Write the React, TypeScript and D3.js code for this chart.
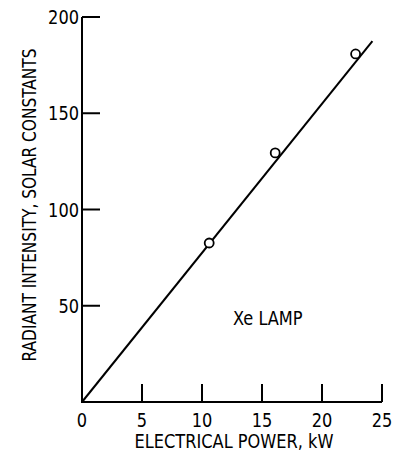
import React from "react";
import * as d3 from "d3";

const pointPower = [10.6, 16.1, 22.8];
const pointIntensity = [82.6, 129.4, 180.8];
const fitPower = [0, 24.2];
const fitIntensity = [0, 187.5];
const xTicks = [0, 5, 10, 15, 20, 25];
const yTicks = [50, 100, 150, 200];

const width = 393;
const height = 455;
const margin = { top: 17, right: 11, bottom: 53, left: 82 };
const font = "'DejaVu Sans Condensed', 'DejaVu Sans', sans-serif";

// narrow, tall lettering like the original typewriter-style labels
const Label = ({ x, y, anchor = "start", size = 20, rotate = 0, children }: any) => (
  <text
    transform={`translate(${x},${y}) rotate(${rotate}) scale(0.9,1)`}
    textAnchor={anchor}
    fontSize={size}
  >
    {children}
  </text>
);

const App = () => {
  const x = d3
    .scaleLinear()
    .domain([0, 25])
    .range([margin.left, width - margin.right]);
  const y = d3
    .scaleLinear()
    .domain([0, 200])
    .range([height - margin.bottom, margin.top]);

  const line = d3
    .line<number>()
    .x((d) => x(fitPower[d]))
    .y((d) => y(fitIntensity[d]));

  const tickLen = 18;

  return (
    <svg
      width={width}
      height={height}
      style={{ position: "absolute", left: 0, top: 0, background: "#fff" }}
      fontFamily={font}
    >
      {/* axes */}
      <path
        d={`M${x(0)},${y(200)}V${y(0)}H${x(25)}`}
        fill="none"
        stroke="#000"
        strokeWidth={2}
      />
      {yTicks.map((t) => (
        <g key={"y" + t}>
          <line x1={x(0)} x2={x(0) + tickLen} y1={y(t)} y2={y(t)} stroke="#000" strokeWidth={2} />
          <Label x={x(0) - 3} y={y(t) + 7} anchor="end">
            {t}
          </Label>
        </g>
      ))}
      {xTicks.map((t) => (
        <g key={"x" + t}>
          {t > 0 && (
            <line x1={x(t)} x2={x(t)} y1={y(0)} y2={y(0) - tickLen} stroke="#000" strokeWidth={2} />
          )}
          <Label x={x(t)} y={y(0) + 25} anchor="middle">
            {t}
          </Label>
        </g>
      ))}

      {/* fit line */}
      <path d={line([0, 1]) || ""} fill="none" stroke="#000" strokeWidth={2} />

      {/* data points */}
      {pointPower.map((p, i) => (
        <circle
          key={i}
          cx={x(p)}
          cy={y(pointIntensity[i])}
          r={4.5}
          fill="#fff"
          stroke="#000"
          strokeWidth={1.8}
        />
      ))}

      <Label x={233} y={325}>
        Xe LAMP
      </Label>

      {/* axis titles */}
      <Label x={234} y={448} anchor="middle">
        ELECTRICAL POWER, kW
      </Label>
      <Label x={36} y={205} anchor="middle" size={19} rotate={-90}>
        RADIANT INTENSITY, SOLAR CONSTANTS
      </Label>
    </svg>
  );
};

export default App;
